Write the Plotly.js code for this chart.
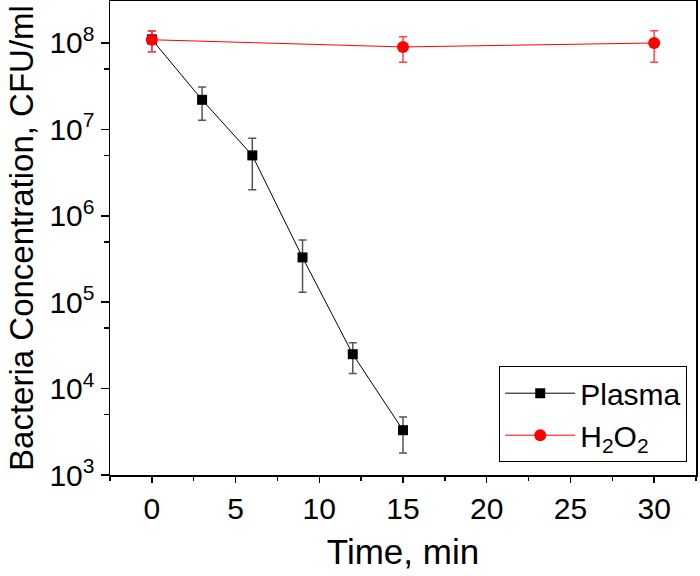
<!DOCTYPE html>
<html>
<head>
<meta charset="utf-8">
<script src="https://cdn.plot.ly/plotly-3.0.1.min.js"></script>
<style>html,body{margin:0;padding:0;background:#fff;}#chart{width:700px;height:576px;}</style>
</head>
<body>
<div id="chart"></div>
<script>
const plasmaTime = [0, 3, 6, 9, 12, 15];
const plasmaCFU = [1.1e8, 2.2e7, 5.0e6, 3.3e5, 2.5e4, 3.3e3];
const plasmaUpper = [1.38e8, 3.1e7, 7.9e6, 5.25e5, 3.4e4, 4.7e3];
const plasmaLower = [7.9e7, 1.28e7, 2.0e6, 1.3e5, 1.5e4, 1.8e3];

const h2o2Time = [0, 15, 30];
const h2o2CFU = [1.09e8, 9.0e7, 1.0e8];
const h2o2Upper = [1.38e8, 1.18e8, 1.39e8];
const h2o2Lower = [7.9e7, 6.0e7, 6.0e7];

const xTickVals = [0, 5, 10, 15, 20, 25, 30];
const yTickVals = [1e3, 1e4, 1e5, 1e6, 1e7, 1e8];
const yTickText = ['10<sup>3</sup>', '10<sup>4</sup>', '10<sup>5</sup>', '10<sup>6</sup>', '10<sup>7</sup>', '10<sup>8</sup>'];
const yMinorVals = [5e3, 5e4, 5e5, 5e6, 5e7];

const FONT = 'Liberation Sans, Arial, sans-serif';

function plus(v, up) { return up.map((u, i) => u - v[i]); }
function minus(v, lo) { return lo.map((l, i) => v[i] - l); }

const traces = [
  {
    x: plasmaTime, y: plasmaCFU, name: 'Plasma', type: 'scatter', mode: 'lines+markers',
    line: {color: '#000000', width: 1},
    marker: {symbol: 'square', size: 10, color: '#000000'},
    error_y: {type: 'data', symmetric: false, array: plus(plasmaCFU, plasmaUpper),
      arrayminus: minus(plasmaCFU, plasmaLower), color: '#555555', thickness: 1.5, width: 4}
  },
  {
    x: h2o2Time, y: h2o2CFU, name: 'H<sub>2</sub>O<sub>2</sub>', type: 'scatter', mode: 'lines+markers',
    line: {color: '#ff0000', width: 1},
    marker: {symbol: 'circle', size: 12, color: '#ff0000'},
    error_y: {type: 'data', symmetric: false, array: plus(h2o2CFU, h2o2Upper),
      arrayminus: minus(h2o2CFU, h2o2Lower), color: '#ff4444', thickness: 1.5, width: 4}
  }
];

const layout = {
  width: 700, height: 576,
  margin: {l: 110, r: 4, t: 1, b: 101},
  paper_bgcolor: '#ffffff', plot_bgcolor: '#ffffff',
  font: {family: FONT, color: '#000000', size: 30},
  showlegend: true,
  legend: {
    x: 0.985, y: 0.027, xanchor: 'right', yanchor: 'bottom',
    bordercolor: '#000000', borderwidth: 1, bgcolor: '#ffffff',
    font: {family: FONT, size: 30, color: '#000000'},
    itemwidth: 70, tracegroupgap: 0
  },
  xaxis: {
    range: [-2.5, 32.5], tickvals: xTickVals, ticks: 'outside', ticklen: 6, tickwidth: 1.5,
    tickcolor: '#000000', showline: true, linecolor: '#000000', linewidth: 1.5, mirror: true,
    showgrid: false, zeroline: false,
    tickfont: {family: FONT, size: 30, color: '#000000'},
    minor: {dtick: 2.5, tick0: 0, ticks: 'outside', ticklen: 4, tickwidth: 1.5, tickcolor: '#000000', showgrid: false},
    title: {text: 'Time, min', font: {family: FONT, size: 35, color: '#000000'}, standoff: 16}
  },
  yaxis: {
    type: 'log', range: [3, 8.486], tickvals: yTickVals, ticktext: yTickText,
    ticks: 'outside', ticklen: 8, tickwidth: 1.5, tickcolor: '#000000',
    showline: true, linecolor: '#000000', linewidth: 1.5, mirror: true,
    showgrid: false, zeroline: false,
    tickfont: {family: FONT, size: 30, color: '#000000'},
    minor: {tickvals: yMinorVals, ticks: 'outside', ticklen: 5, tickwidth: 1.5, tickcolor: '#000000', showgrid: false},
    title: {text: 'Bacteria Concentration, CFU/ml', font: {family: FONT, size: 33, color: '#000000'}, standoff: 6}
  }
};

Plotly.newPlot('chart', traces, layout, {displayModeBar: false, staticPlot: true});
</script>
</body>
</html>
